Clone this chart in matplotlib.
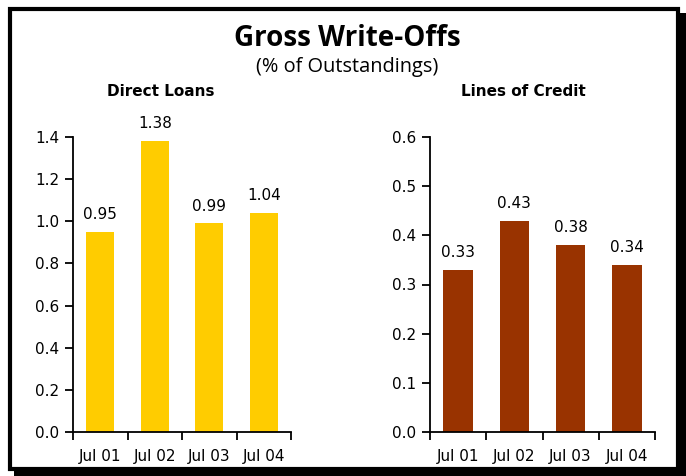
import matplotlib
matplotlib.use("Agg")
import matplotlib.pyplot as plt
from matplotlib.patches import Rectangle
from matplotlib.ticker import FixedLocator, FormatStrFormatter, NullFormatter
import numpy as np

categories = ["Jul 01", "Jul 02", "Jul 03", "Jul 04"]
direct_loans = [0.95, 1.38, 0.99, 1.04]
lines_of_credit = [0.33, 0.43, 0.38, 0.34]

W, H = 686, 476
fig = plt.figure(figsize=(W / 100, H / 100), dpi=100)
fig.patch.set_facecolor("white")

def px(x, y):
    return x / W, 1 - y / H

# frame with shadow
shadow_r = Rectangle((677 / W, 1 - 476 / H), 9 / W, (476 - 13) / H, transform=fig.transFigure,
                     facecolor="black", edgecolor="none", zorder=0)
shadow_b = Rectangle((14 / W, 0), (686 - 14) / W, 9 / H, transform=fig.transFigure,
                     facecolor="black", edgecolor="none", zorder=0)
frame = Rectangle((9.5 / W, 1 - 468.5 / H), 668 / W, 460 / H, transform=fig.transFigure,
                  facecolor="none", edgecolor="black", linewidth=3, zorder=0.5)
for p in (shadow_r, shadow_b, frame):
    fig.patches.append(p)

fig.text(*px(347, 39), "Gross Write-Offs", ha="center", va="center",
         fontsize=20, fontweight="bold", family="Open Sans")
fig.text(*px(347, 67), "(% of Outstandings)", ha="center", va="center",
         fontsize=14.4, family="Open Sans")

def make_panel(rect, values, color, ymax, step, title, title_x):
    ax = fig.add_axes(rect)
    ax.set_facecolor("none")
    ax.set_zorder(2)
    x = np.arange(len(categories))
    ax.bar(x, values, width=0.52, color=color, zorder=2)
    ax.set_xlim(-0.5, len(categories) - 0.5)
    ax.set_ylim(0, ymax)
    ax.yaxis.set_major_locator(FixedLocator(np.round(np.arange(0, ymax + step / 2, step), 2)))
    ax.yaxis.set_major_formatter(FormatStrFormatter("%.1f"))
    ax.xaxis.set_major_locator(FixedLocator(np.arange(-0.5, len(categories), 1.0)))
    ax.xaxis.set_major_formatter(NullFormatter())
    ax.set_xticks(x, minor=True)
    ax.set_xticklabels(categories, minor=True)
    ax.tick_params(axis="x", which="major", length=6, width=1.3, direction="out")
    ax.tick_params(axis="x", which="minor", length=0, pad=12, labelsize=11)
    ax.tick_params(axis="y", length=6, width=1.3, direction="out", labelsize=11, pad=4)
    for s in ("top", "right"):
        ax.spines[s].set_visible(False)
    for s in ("left", "bottom"):
        ax.spines[s].set_linewidth(1.3)
        ax.spines[s].set_color("black")
    for xi, v in zip(x, values):
        ax.annotate(f"{v:.2f}", (xi, v), xytext=(0, 7), textcoords="offset points",
                    ha="center", va="bottom", fontsize=11)
    fig.text(*px(title_x, 92), title, ha="center", va="center", fontsize=11,
             fontweight="bold")
    return ax

ax1 = make_panel([73 / W, 1 - 432 / H, 218 / W, 295 / H], direct_loans, "#FFCC00",
                 1.4, 0.2, "Direct Loans", 161)
ax2 = make_panel([430 / W, 1 - 432 / H, 225 / W, 295 / H], lines_of_credit, "#993300",
                 0.6, 0.1, "Lines of Credit", 523)

fig.savefig("out.png", dpi=100, facecolor="white")
